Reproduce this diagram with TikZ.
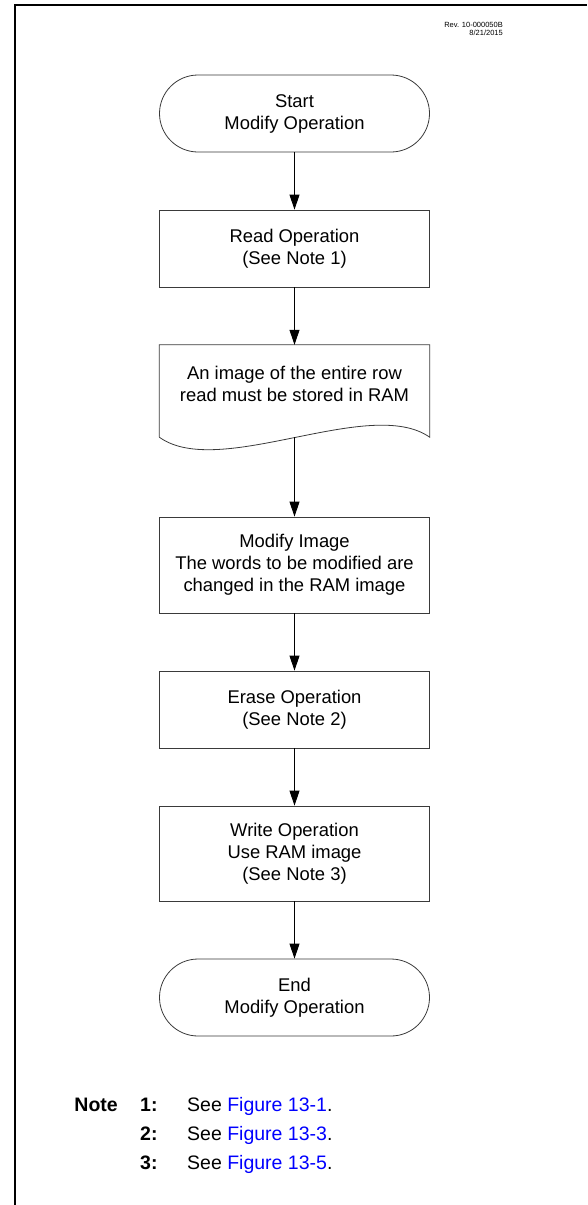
\documentclass[tikz,border=0pt]{standalone}
\usepackage{fontspec}
\setmainfont{Liberation Sans}
\usetikzlibrary{arrows.meta,positioning,calc}
\definecolor{mcblue}{HTML}{0000FF}
\definecolor{mcline}{HTML}{3A3A3A}

\begin{document}
\begin{tikzpicture}[
  x=1pt, y=-1pt,
  terminal/.style={
    draw=mcline, line width=0.8pt, rounded corners=38.5pt,
    minimum width=270pt, minimum height=77pt, inner sep=0pt,
    align=center, font=\fontsize{18.4}{22}\selectfont
  },
  procbox/.style={
    draw=mcline, line width=0.8pt,
    minimum width=270pt, inner sep=0pt,
    align=center, font=\fontsize{18.4}{22}\selectfont
  },
  docbox/.style={
    minimum width=270pt, minimum height=78pt, inner sep=0pt,
    align=center, font=\fontsize{18.4}{22}\selectfont
  },
  arrow/.style={-{Triangle[length=15pt,width=10pt]}, line width=0.8pt},
  notetxt/.style={font=\fontsize{19.5}{29}\selectfont, inner sep=0pt},
]
  \useasboundingbox (0,0) rectangle (587,1205);

  % Page frame (top and left rules)
  \draw[line width=2pt] (15,1205) -- (15,5) -- (587,5);

  % Revision stamp
  \node[anchor=east, align=right, inner sep=0pt,
        font=\fontsize{7.5}{8.5}\selectfont] (rev) at (503,29)
    {Rev. 10-000050B\\8/21/2015};

  % Flow
  \node[terminal] (start) at (294.5,113.5) {Start\\Modify Operation};
  \node[procbox, minimum height=77pt] (read) at (294.5,248.5)
    {Read Operation\\(See Note 1)};
  \node[docbox] (doc) at (294.5,384)
    {An image of the entire row\\read must be stored in RAM};
  \node[procbox, minimum height=96pt] (modify) at (294.5,565)
    {Modify Image\\The words to be modified are\\changed in the RAM image};
  \node[procbox, minimum height=77pt] (erase) at (294.5,709.5)
    {Erase Operation\\(See Note 2)};
  \node[procbox, minimum height=95pt] (write) at (294.5,853.5)
    {Write Operation\\Use RAM image\\(See Note 3)};
  \node[terminal] (finish) at (294.5,997.5) {End\\Modify Operation};

  % Document outline with wavy bottom
  \coordinate (docl) at ($(doc.south west)+(0,14)$);
  \coordinate (docr) at ($(doc.south east)+(0,14)$);
  \coordinate (docb) at ($(doc.south)+(0,14)$);
  \draw[mcline, line width=0.8pt] (docl) -- (doc.north west) -- (doc.north east)
    -- (docr) .. controls +(-60,-42) and +(60,43) .. (docl);

  % Connectors
  \draw[arrow] (start) -- (read);
  \draw[arrow] (read) -- (doc.north);
  \draw[arrow] (docb) -- (modify.north);
  \draw[arrow] (modify) -- (erase);
  \draw[arrow] (erase) -- (write);
  \draw[arrow] (write) -- (finish);

  % Notes
  \node[notetxt, anchor=base east, font=\fontsize{19.5}{29}\selectfont\bfseries]
    (notehd) at (118,1111) {Note};
  \foreach \n/\fig [count=\i from 0] in {1/13-1, 2/13-3, 3/13-5} {
    \node[notetxt, anchor=base west, font=\fontsize{19.5}{29}\selectfont\bfseries]
      (num\n) at (140,1111+\i*29) {\n:};
    \node[notetxt, anchor=base west] (see\n) at (187,1111+\i*29)
      {See \textcolor{mcblue}{Figure \fig}.};
  }
\end{tikzpicture}
\end{document}
